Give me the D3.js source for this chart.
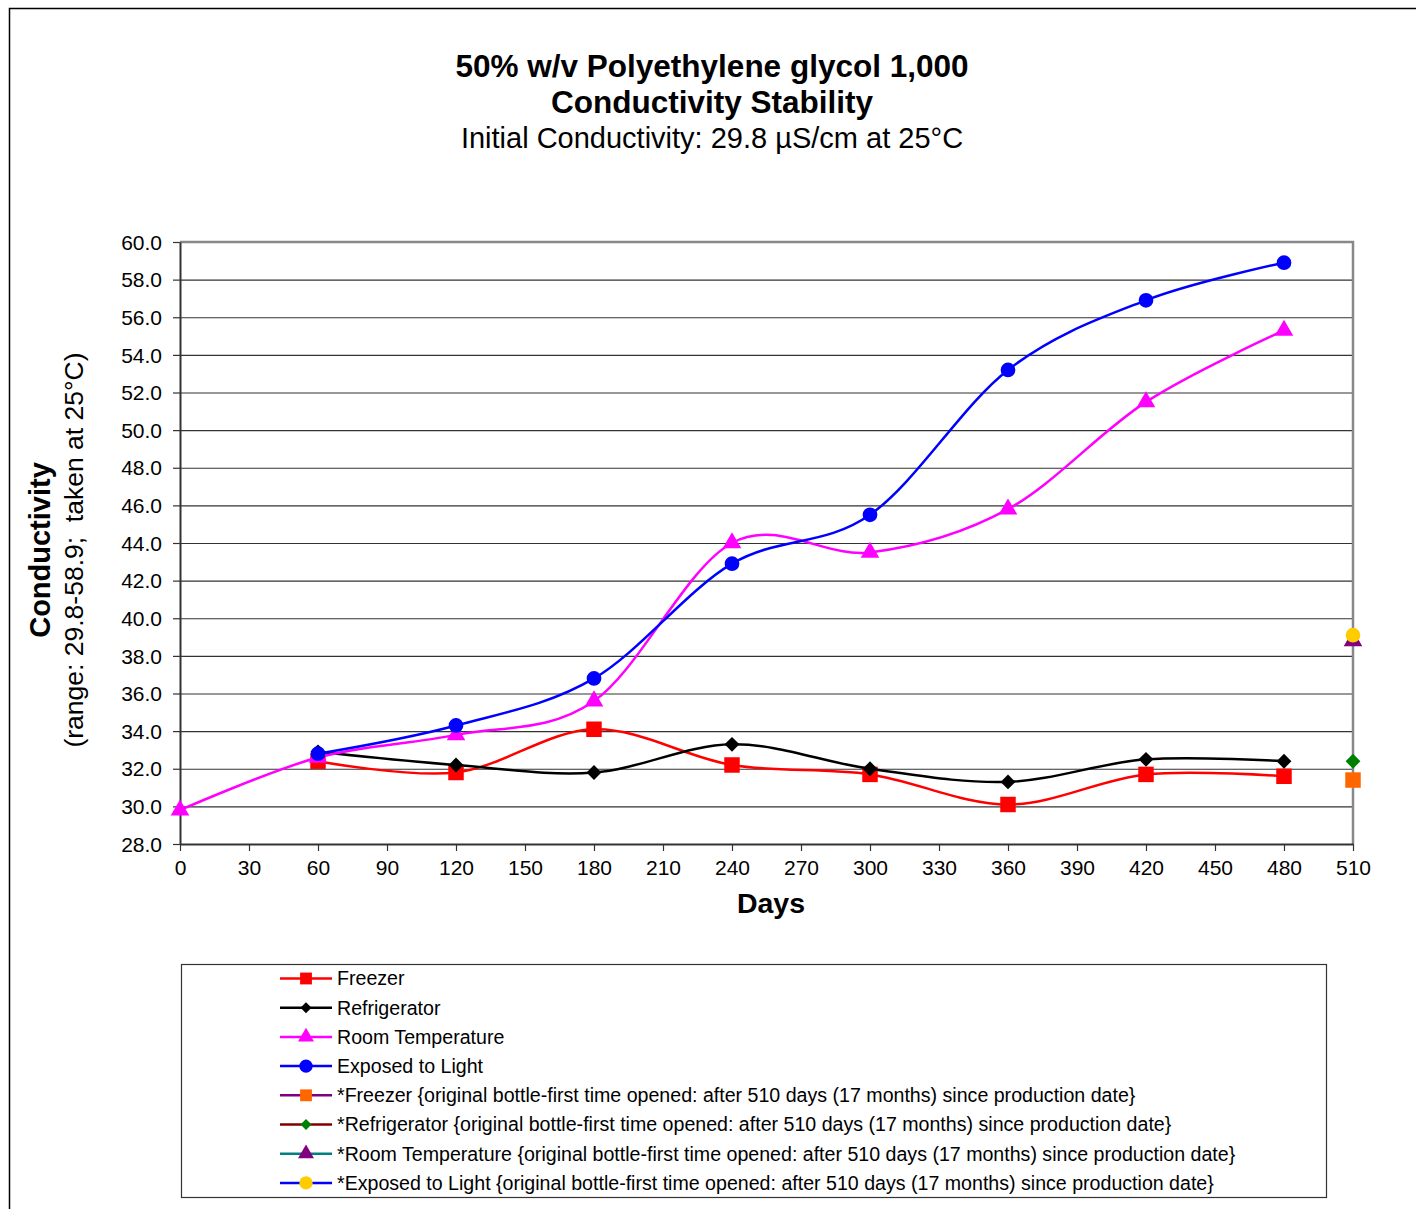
<!DOCTYPE html>
<html>
<head>
<meta charset="utf-8">
<script src="https://cdn.jsdelivr.net/npm/d3@7"></script>
<style>
  body { margin: 0; background: #fff; }
  text { font-family: "Liberation Sans", Arial, sans-serif; fill: #000; }
  .tick text { font-size: 21px; }
  .grid line { stroke: #333; stroke-width: 1.2; }
</style>
</head>
<body>
<svg width="1416" height="1209"></svg>
<script>
// data
const days = [0, 60, 120, 180, 240, 300, 360, 420, 480]
const freezer = [null, 32.4, 31.8, 34.1, 32.2, 31.7, 30.1, 31.7, 31.6]
const refrigerator = [null, 32.9, 32.2, 31.8, 33.3, 32.0, 31.3, 32.5, 32.4]
const roomTemp = [29.8, 32.6, 33.8, 35.6, 44.0, 43.5, 45.8, 51.5, 55.3]
const light = [null, 32.8, 34.3, 36.8, 42.9, 45.5, 53.2, 56.9, 58.9]

// original bottle, opened after 510 days
const openedDay = 510
const openedValues = [31.4, 32.4, 38.8, 39.1]

const xTicks = d3.range(0, 511, 30)
const yTicks = d3.range(28, 60.1, 2)

const seriesNames = ['Freezer', 'Refrigerator', 'Room Temperature', 'Exposed to Light']
const openedNames = seriesNames.map(n => '*' + n + ' {original bottle-first time opened: after 510 days (17 months) since production date}')

const series = [
  { name: seriesNames[0], values: freezer, color: '#ff0000', fill: '#ff0000', shape: 'square' },
  { name: seriesNames[1], values: refrigerator, color: '#000000', fill: '#000000', shape: 'diamond' },
  { name: seriesNames[2], values: roomTemp, color: '#ff00ff', fill: '#ff00ff', shape: 'triangle' },
  { name: seriesNames[3], values: light, color: '#0000ff', fill: '#0000ff', shape: 'circle' }
]
const opened = [
  { name: openedNames[0], value: openedValues[0], color: '#800080', fill: '#ff6600', shape: 'square' },
  { name: openedNames[1], value: openedValues[1], color: '#800000', fill: '#008000', shape: 'diamond' },
  { name: openedNames[2], value: openedValues[2], color: '#008080', fill: '#800080', shape: 'triangle' },
  { name: openedNames[3], value: openedValues[3], color: '#0000ff', fill: '#ffcc00', shape: 'circle' }
]

const svg = d3.select('svg')

// outer frame
svg.append('path')
  .attr('d', 'M9.5,1209 L9.5,8.5 L1416,8.5')
  .attr('fill', 'none')
  .attr('stroke', '#000')
  .attr('stroke-width', 1.5)

const plotLeft = 180, plotRight = 1353, plotTop = 242, plotBottom = 844

const xScale = d3.scaleLinear().domain([0, 510]).range([plotLeft, plotRight])
const yScale = d3.scaleLinear().domain([28, 60]).range([plotBottom, plotTop])

// gridlines
svg.append('g')
  .attr('class', 'grid')
  .attr('transform', `translate(${plotLeft},0)`)
  .call(d3.axisLeft(yScale).tickValues(yTicks.slice(1)).tickSize(-(plotRight - plotLeft)).tickFormat(''))
  .call(g => g.select('.domain').remove())

// plot frame (top & right)
svg.append('path')
  .attr('d', `M${plotLeft},${plotTop} L${plotRight},${plotTop} L${plotRight},${plotBottom}`)
  .attr('fill', 'none')
  .attr('stroke', '#888')
  .attr('stroke-width', 2.5)

// axes
svg.append('g')
  .attr('transform', `translate(${plotLeft},0)`)
  .call(d3.axisLeft(yScale).tickValues(yTicks).tickSize(7).tickSizeOuter(0).tickPadding(11).tickFormat(d3.format('.1f')))
  .call(g => g.select('.domain').attr('stroke', '#333').attr('stroke-width', 2))
  .call(g => g.selectAll('.tick line').attr('stroke', '#333').attr('stroke-width', 1.2))
  .call(g => g.selectAll('.tick text').attr('dy', '0.34em'))

svg.append('g')
  .attr('transform', `translate(0,${plotBottom})`)
  .call(d3.axisBottom(xScale).tickValues(xTicks).tickSize(7).tickSizeOuter(0).tickPadding(6))
  .call(g => g.select('.domain').attr('stroke', '#333').attr('stroke-width', 2))
  .call(g => g.selectAll('.tick line').attr('stroke', '#333').attr('stroke-width', 1.2))
  .call(g => g.selectAll('.tick text').attr('dy', '0.85em'))

// markers (diamond = rotated square)
const symbolFor = {
  square: d3.symbol().type(d3.symbolSquare).size(240),
  diamond: d3.symbol().type(d3.symbolSquare).size(110),
  triangle: d3.symbol().type(d3.symbolTriangle).size(150),
  circle: d3.symbol().type(d3.symbolCircle).size(170)
}
const legendSymbol = {
  square: d3.symbol().type(d3.symbolSquare).size(140),
  diamond: d3.symbol().type(d3.symbolSquare).size(60),
  triangle: d3.symbol().type(d3.symbolTriangle).size(110),
  circle: d3.symbol().type(d3.symbolCircle).size(140)
}
const rot = shape => shape === 'diamond' ? ' rotate(45)' : ''

const line = d3.line()
  .defined(d => d.v != null)
  .x(d => xScale(d.day))
  .y(d => yScale(d.v))
  .curve(d3.curveCatmullRom.alpha(0))

series.forEach(s => {
  const pts = days.map((day, i) => ({ day, v: s.values[i] })).filter(d => d.v != null)
  svg.append('path')
    .datum(pts)
    .attr('fill', 'none')
    .attr('stroke', s.color)
    .attr('stroke-width', 2.5)
    .attr('d', line)
  svg.append('g').selectAll('path')
    .data(pts)
    .enter()
    .append('path')
    .attr('transform', d => `translate(${xScale(d.day)},${yScale(d.v)})` + rot(s.shape))
    .attr('d', symbolFor[s.shape]())
    .attr('fill', s.fill)
})

opened.forEach(s => {
  svg.append('path')
    .attr('transform', `translate(${xScale(openedDay)},${yScale(s.value)})` + rot(s.shape))
    .attr('d', symbolFor[s.shape]())
    .attr('fill', s.fill)
})

// titles
svg.append('text')
  .attr('x', 712).attr('y', 77)
  .attr('text-anchor', 'middle')
  .style('font-size', '31.5px').style('font-weight', 'bold')
  .text('50% w/v Polyethylene glycol 1,000')
svg.append('text')
  .attr('x', 712).attr('y', 113)
  .attr('text-anchor', 'middle')
  .style('font-size', '31.5px').style('font-weight', 'bold')
  .text('Conductivity Stability')
svg.append('text')
  .attr('x', 712).attr('y', 148)
  .attr('text-anchor', 'middle')
  .style('font-size', '29px')
  .text('Initial Conductivity: 29.8 µS/cm at 25°C')

svg.append('text')
  .attr('x', 771).attr('y', 913)
  .attr('text-anchor', 'middle')
  .style('font-size', '28.5px').style('font-weight', 'bold')
  .text('Days')

svg.append('text')
  .attr('transform', 'translate(50,550) rotate(-90)')
  .attr('text-anchor', 'middle')
  .style('font-size', '29px').style('font-weight', 'bold')
  .text('Conductivity')
svg.append('text')
  .attr('transform', 'translate(83,550) rotate(-90)')
  .attr('text-anchor', 'middle')
  .style('font-size', '26.5px')
  .style('white-space', 'pre')
  .text('(range: 29.8-58.9;  taken at 25°C)')

// legend
svg.append('rect')
  .attr('x', 181.5).attr('y', 964.5)
  .attr('width', 1145).attr('height', 233)
  .attr('fill', 'none')
  .attr('stroke', '#333')
  .attr('stroke-width', 1.2)

const legendItems = series.map(s => ({ name: s.name, color: s.color, fill: s.fill, shape: s.shape }))
  .concat(opened.map(s => ({ name: s.name, color: s.color, fill: s.fill, shape: s.shape })))

const legend = svg.append('g').selectAll('g')
  .data(legendItems)
  .enter()
  .append('g')
  .attr('transform', (d, i) => `translate(280,${978.5 + i * 29.2})`)

legend.append('line')
  .attr('x1', 0).attr('x2', 52)
  .attr('stroke', d => d.color)
  .attr('stroke-width', 2.5)
legend.append('path')
  .attr('transform', d => 'translate(26,0)' + rot(d.shape))
  .attr('d', d => legendSymbol[d.shape]())
  .attr('fill', d => d.fill)
legend.append('text')
  .attr('x', 57)
  .attr('dy', '0.35em')
  .style('font-size', '19.6px')
  .text(d => d.name)
</script>
</body>
</html>
